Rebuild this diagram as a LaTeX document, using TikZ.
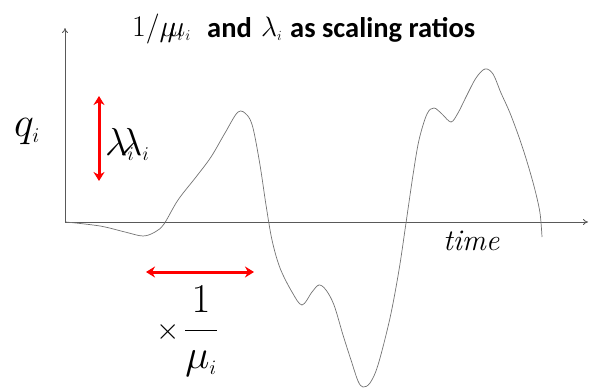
\RequirePackage{fix-cm}
\documentclass[tikz,border=0pt]{standalone}
\usepackage{fontspec}
\newfontfamily\carlito{Carlito}
\usetikzlibrary{arrows.meta}
\begin{document}
\begin{tikzpicture}[x=1pt,y=-1pt,
  axis/.style={draw=black!65, line width=0.8pt, -{To[length=5pt,width=6pt]}},
  wave/.style={draw=black!55, line width=0.7pt},
  scalearrow/.style={draw=red, line width=3pt, {Stealth[length=9pt,width=11pt]}-{Stealth[length=9pt,width=11pt]}},
  lbl/.style={inner sep=0pt, anchor=base west}]
\useasboundingbox (0,0) rectangle (592,388);
\coordinate (o) at (65,222);
\coordinate (ytop) at (65,28);
\coordinate (xend) at (588,222);
\draw[axis] (o) -- (ytop);
\draw[axis] (o) -- (xend);
\draw[wave] plot[smooth, tension=0.55] coordinates {
 (66,222) (100,226) (125,232) (143,236) (155,232) (164,224) (178,200) (196,177)
 (211,157) (225,133) (238,112) (247,115) (253,128) (260,165) (266,205) (272,240)
 (280,268) (292,292) (302,305) (312,292) (319,285) (326,290) (334,305) (343,335)
 (351,360) (358,381) (363,387) (370,383) (378,365) (390,318) (399,270) (406,223)
 (413,175) (419,140) (427,114) (434,108) (442,114) (451,122) (458,113) (466,97)
 (476,78) (485,69) (493,74) (501,93) (510,113) (520,140) (528,165) (535,190)
 (540,213) (542,237)};
\draw[scalearrow] (99,96) -- (99,181);
\draw[scalearrow] (146,272) -- (254,272);
% labels
\node[lbl] (q) at (14,136) {\fontsize{42}{42}\selectfont $q_{\scriptscriptstyle i}$};
\node[lbl] (lam) at (105,155) {\fontsize{39}{39}\selectfont $\rlap{$\lambda_{\scriptscriptstyle i}$}\hspace{15pt}\lambda_{\scriptscriptstyle i}$};
\node[lbl] (time) at (443,250) {\fontsize{30}{30}\selectfont\itshape time};
\node[lbl] (times) at (156,339) {\fontsize{30}{30}\selectfont $\times$};
\node[inner sep=0pt] (frac) at (201,331) {\fontsize{41}{41}\selectfont $\displaystyle\frac{1}{\mu_{\scriptscriptstyle i}}$};
\node[lbl] (t1) at (132,36) {\fontsize{30}{30}\selectfont $1/\rlap{$\mu_{\scriptscriptstyle i}$}\hspace{8pt}\mu_{\scriptscriptstyle i}$};
\node[lbl] (t4) at (207,37) {\fontsize{28.5}{28.5}\selectfont\carlito\bfseries and};
\node[lbl] (t5) at (261,36) {\fontsize{28}{28}\selectfont $\lambda_{\scriptscriptstyle i}$};
\node[lbl] (t6) at (290,37) {\fontsize{28.5}{28.5}\selectfont\carlito\bfseries as scaling ratios};
\end{tikzpicture}
\end{document}
